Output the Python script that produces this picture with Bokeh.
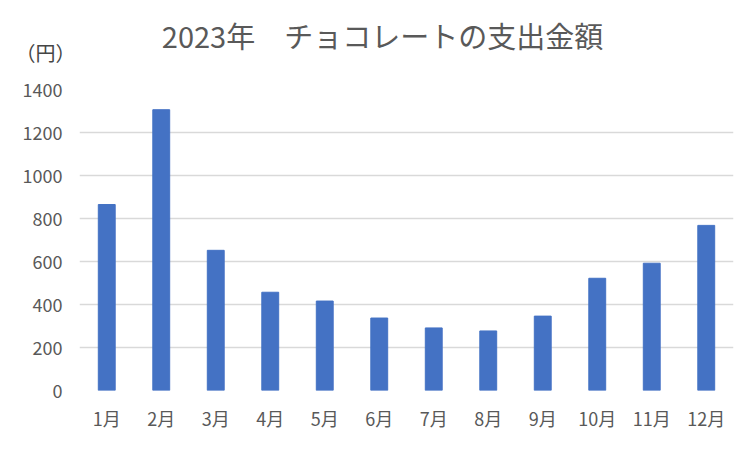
from bokeh.plotting import figure
from bokeh.models import Label, FixedTicker, Range1d, FactorRange
from bokeh.embed import file_html
from bokeh.resources import INLINE

months = ["1月", "2月", "3月", "4月", "5月", "6月", "7月", "8月", "9月", "10月", "11月", "12月"]
spending = [865, 1306, 652, 457, 416, 337, 291, 277, 346, 522, 592, 768]
y_ticks = [0, 200, 400, 600, 800, 1000, 1200, 1400]
title_text = "2023年　チョコレートの支出金額"
unit_text = "（円）"

FONT = "Noto Sans CJK JP"
GRAY = "#595959"

p = figure(width=740, height=433, x_range=FactorRange(*months, range_padding=0),
           y_range=Range1d(0, 1400), output_backend="svg", toolbar_location=None,
           min_border_left=79, min_border_right=7, min_border_top=89, min_border_bottom=41)
p.outline_line_color = None

p.vbar(x=months, top=spending, width=0.31, color="#4472C4")

p.yaxis.ticker = FixedTicker(ticks=y_ticks)
p.ygrid.ticker = FixedTicker(ticks=y_ticks)
p.ygrid.grid_line_color = "#d9d9d9"
p.ygrid.grid_line_width = 1.5
p.xgrid.grid_line_color = None

for ax in (p.xaxis, p.yaxis):
    ax.axis_line_color = None
    ax.major_tick_line_color = None
    ax.minor_tick_line_color = None
    ax.major_tick_out = 0
    ax.minor_tick_out = 0
    ax.major_label_text_font = FONT
    ax.major_label_text_color = GRAY
    ax.major_label_text_font_size = "18px"
p.yaxis.major_label_standoff = 17
p.xaxis.major_label_standoff = 14

p.add_layout(Label(x=303, y=55, x_units="screen", y_units="screen", text=title_text,
                   text_font=FONT, text_font_size="29px", text_color=GRAY,
                   text_align="center", text_baseline="middle"), "above")
p.add_layout(Label(x=-34, y=-5, x_units="screen", y_units="screen", text=unit_text,
                   text_font=FONT, text_font_size="20px", text_color="#454545",
                   text_align="center", text_baseline="middle"), "above")

open("out.html", "w").write(file_html(p, INLINE))
